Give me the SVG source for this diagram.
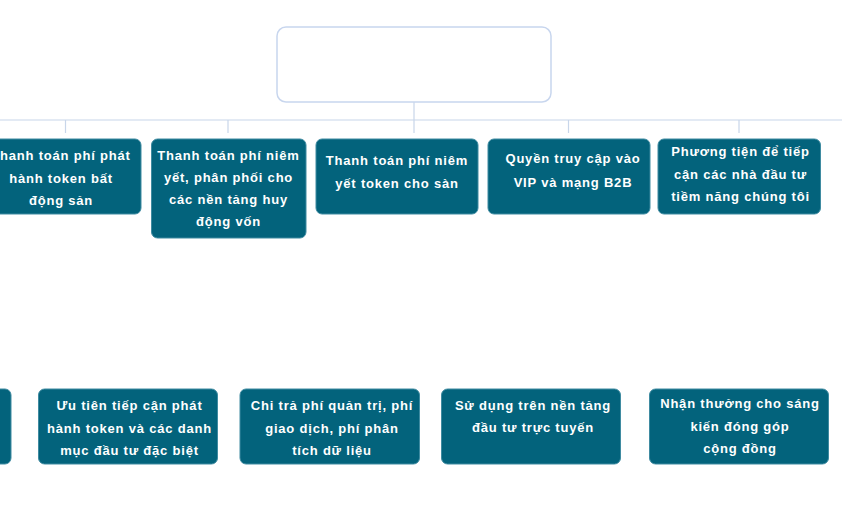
<svg xmlns="http://www.w3.org/2000/svg" width="842" height="532" viewBox="0 0 842 532">
<style>
.n{fill:#03637c;stroke:#3f8ba1;stroke-width:1}
.t{fill:#ffffff;font-family:"Liberation Sans",Arial,sans-serif;font-weight:bold;font-size:13px;letter-spacing:0.8px;text-anchor:middle}
.c{stroke:#c8d6ea;stroke-width:1.2;fill:none}
</style>
<rect width="842" height="532" fill="#ffffff"/>
<g id="connectors">
<path class="c" d="M414 102V120M0 120H842M65.5 120V133M228 120V133M414 120V133M568.5 120V133M739 120V133"/>
</g>
<g id="root"><rect x="277" y="27" width="274" height="75" rx="9" fill="#ffffff" stroke="#c8d6ee" stroke-width="1.5"/></g>
<g id="t1"><rect class="n" x="-20" y="139" width="161" height="75" rx="6"/>
<text class="t" x="61"><tspan x="61" y="160">Thanh toán phí phát</tspan><tspan x="61" y="182.5">hành token bất</tspan><tspan x="61" y="205">động sản</tspan></text></g>
<g id="t2"><rect class="n" x="151.5" y="139" width="154.5" height="99" rx="6"/>
<text class="t"><tspan x="228.5" y="160">Thanh toán phí niêm</tspan><tspan x="228.5" y="182">yết, phân phối cho</tspan><tspan x="228.5" y="204">các nền tảng huy</tspan><tspan x="228.5" y="226">động vốn</tspan></text></g>
<g id="t3"><rect class="n" x="316" y="139" width="162" height="75" rx="6"/>
<text class="t"><tspan x="397" y="165">Thanh toán phí niêm</tspan><tspan x="397" y="188">yết token cho sàn</tspan></text></g>
<g id="t4"><rect class="n" x="488" y="139" width="162" height="75" rx="6"/>
<text class="t"><tspan x="573" y="163">Quyền truy cập vào</tspan><tspan x="573" y="186.5">VIP và mạng B2B</tspan></text></g>
<g id="t5"><rect class="n" x="658" y="139" width="162.5" height="75" rx="6"/>
<text class="t"><tspan x="740.5" y="156">Phương tiện để tiếp</tspan><tspan x="740.5" y="179">cận các nhà đầu tư</tspan><tspan x="740.5" y="201">tiềm năng chúng tôi</tspan></text></g>
<g id="b0"><rect class="n" x="-170" y="389" width="181" height="75" rx="6"/></g>
<g id="b1"><rect class="n" x="38.5" y="389" width="179" height="75" rx="6"/>
<text class="t"><tspan x="129.5" y="410">Ưu tiên tiếp cận phát</tspan><tspan x="129.5" y="432.5">hành token và các danh</tspan><tspan x="129.5" y="454.5">mục đầu tư đặc biệt</tspan></text></g>
<g id="b2"><rect class="n" x="240" y="389" width="179.5" height="75" rx="6"/>
<text class="t"><tspan x="332" y="410">Chi trả phí quản trị, phí</tspan><tspan x="332" y="432.5">giao dịch, phí phân</tspan><tspan x="332" y="454.5">tích dữ liệu</tspan></text></g>
<g id="b3"><rect class="n" x="441.5" y="389" width="179" height="75" rx="6"/>
<text class="t"><tspan x="533" y="410">Sử dụng trên nền tảng</tspan><tspan x="533" y="432">đầu tư trực tuyến</tspan></text></g>
<g id="b4"><rect class="n" x="649.5" y="389" width="179" height="75" rx="6"/>
<text class="t"><tspan x="740" y="408">Nhận thưởng cho sáng</tspan><tspan x="740" y="430.5">kiến đóng góp</tspan><tspan x="740" y="453">cộng đồng</tspan></text></g>
</svg>
